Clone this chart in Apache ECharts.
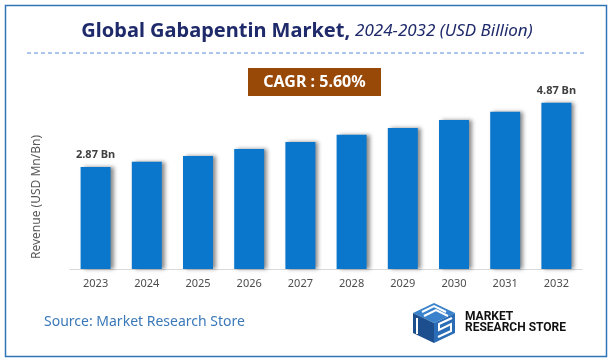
<!DOCTYPE html>
<html>
<head>
<meta charset="utf-8">
<script src="https://cdn.jsdelivr.net/npm/echarts@6/dist/echarts.min.js"></script>
<style>
html,body{margin:0;padding:0;background:#fff;}
#chart{width:614px;height:364px;}
</style>
</head>
<body>
<div id="chart"></div>
<script>
// ---- data ----
const categories = ['2023','2024','2025','2026','2027','2028','2029','2030','2031','2032'];
const revenue = [2.87, 3.02, 3.18, 3.38, 3.58, 3.78, 3.97, 4.20, 4.43, 4.68];
const dataLabels = ['2.87 Bn', '', '', '', '', '', '', '', '', '4.87 Bn'];
const titleMain = 'Global Gabapentin Market,';
const titleSub = '2024-2032 (USD Billion)';
const cagrText = 'CAGR : 5.60%';
const yAxisName = 'Revenue (USD Mn/Bn)';
const sourceText = 'Source: Market Research Store';

const chart = echarts.init(document.getElementById('chart'), null, {renderer: 'canvas'});

const option = {
  backgroundColor: '#ffffff',
  animation: false,
  title: {
    text: '{a|' + titleMain + '} {b|' + titleSub + '}',
    left: 'center',
    top: 16,
    textStyle: {
      rich: {
        a: {fontFamily: 'Noto Sans', fontWeight: 'bold', fontSize: 20, color: '#1f2a6b'},
        b: {fontFamily: 'Noto Sans', fontWeight: 'normal', fontStyle: 'italic', fontSize: 17, color: '#1f2a6b'}
      }
    }
  },
  grid: {left: 70, right: 32, top: 56, bottom: 95, containLabel: false},
  xAxis: {
    type: 'category',
    data: categories,
    axisLine: {show: true, lineStyle: {color: '#d9d9d9', width: 1}},
    axisTick: {show: false},
    axisLabel: {color: '#4d4d4d', fontFamily: 'Noto Sans', fontSize: 11, margin: 9}
  },
  yAxis: {
    type: 'value',
    min: 0,
    max: 6,
    axisLine: {show: false},
    axisTick: {show: false},
    axisLabel: {show: false},
    splitLine: {show: false}
  },
  series: [{
    type: 'bar',
    data: revenue,
    barWidth: 30,
    itemStyle: {
      color: '#0a77cc',
      shadowColor: 'rgba(0,0,0,0.45)',
      shadowBlur: 4,
      shadowOffsetX: 3,
      shadowOffsetY: 0
    },
    label: {
      show: true,
      position: 'top',
      distance: 7,
      color: '#404040',
      fontFamily: 'Noto Sans',
      fontWeight: 'bold',
      fontSize: 11,
      formatter: function (p) { return dataLabels[p.dataIndex]; }
    }
  }],
  graphic: [
    {type: 'rect', shape: {x: 5.5, y: 5.5, width: 601, height: 351},
     style: {fill: 'none', stroke: '#2e75b6', lineWidth: 1.5}, silent: true, z: 0},
    {type: 'line', shape: {x1: 27, y1: 53, x2: 586, y2: 53},
     style: {stroke: '#5b8bd6', lineWidth: 1, lineDash: [4, 3]}},
    {type: 'rect', shape: {x: 248, y: 68, width: 133, height: 28},
     style: {fill: '#984807'}},
    {type: 'text', x: 314.5, y: 82, style: {text: cagrText, fill: '#ffffff',
      font: 'bold 16px "Noto Sans"', align: 'center', verticalAlign: 'middle'}},
    {type: 'text', x: 37, y: 197, rotation: Math.PI / 2, style: {text: yAxisName, fill: '#595959',
      font: '12px "Noto Sans"', align: 'center', verticalAlign: 'middle'}},
    {type: 'text', x: 44, y: 322, style: {text: sourceText, fill: '#3a78b8',
      font: '14px "Noto Sans"', align: 'left', verticalAlign: 'middle'}},
    // logo
    {type: 'polygon', shape: {points: [[434,303],[455,313],[434,323],[413,313]]}, style: {fill: '#3b82cc'}},
    {type: 'polygon', shape: {points: [[413,313],[434,323],[434,343],[413,333]]}, style: {fill: '#1d4f8e'}},
    {type: 'polygon', shape: {points: [[434,323],[455,313],[455,333],[434,343]]}, style: {fill: '#2a6cb5'}},
    {type: 'polyline', shape: {points: [[422,312],[434,306],[446,312]]}, style: {stroke: '#ffffff', lineWidth: 2, fill: 'none'}},
    {type: 'polyline', shape: {points: [[424,316],[436,310],[448,316]]}, style: {stroke: '#ffffff', lineWidth: 2, fill: 'none'}},
    {type: 'polyline', shape: {points: [[452,318],[439,324],[439,330],[451,324],[451,331],[438,337]]}, style: {stroke: '#ffffff', lineWidth: 2, fill: 'none'}},
    {type: 'polyline', shape: {points: [[417,318],[417,334]]}, style: {stroke: '#ffffff', lineWidth: 2, fill: 'none'}},
    {type: 'text', x: 465, y: 317, style: {text: 'MARKET', fill: '#111111',
      font: 'bold 12px Roboto', align: 'left', verticalAlign: 'middle'}},
    {type: 'text', x: 465, y: 328, style: {text: 'RESEARCH STORE', fill: '#111111',
      font: 'bold 12px Roboto', align: 'left', verticalAlign: 'middle'}}
  ]
};
chart.setOption(option);
</script>
</body>
</html>
